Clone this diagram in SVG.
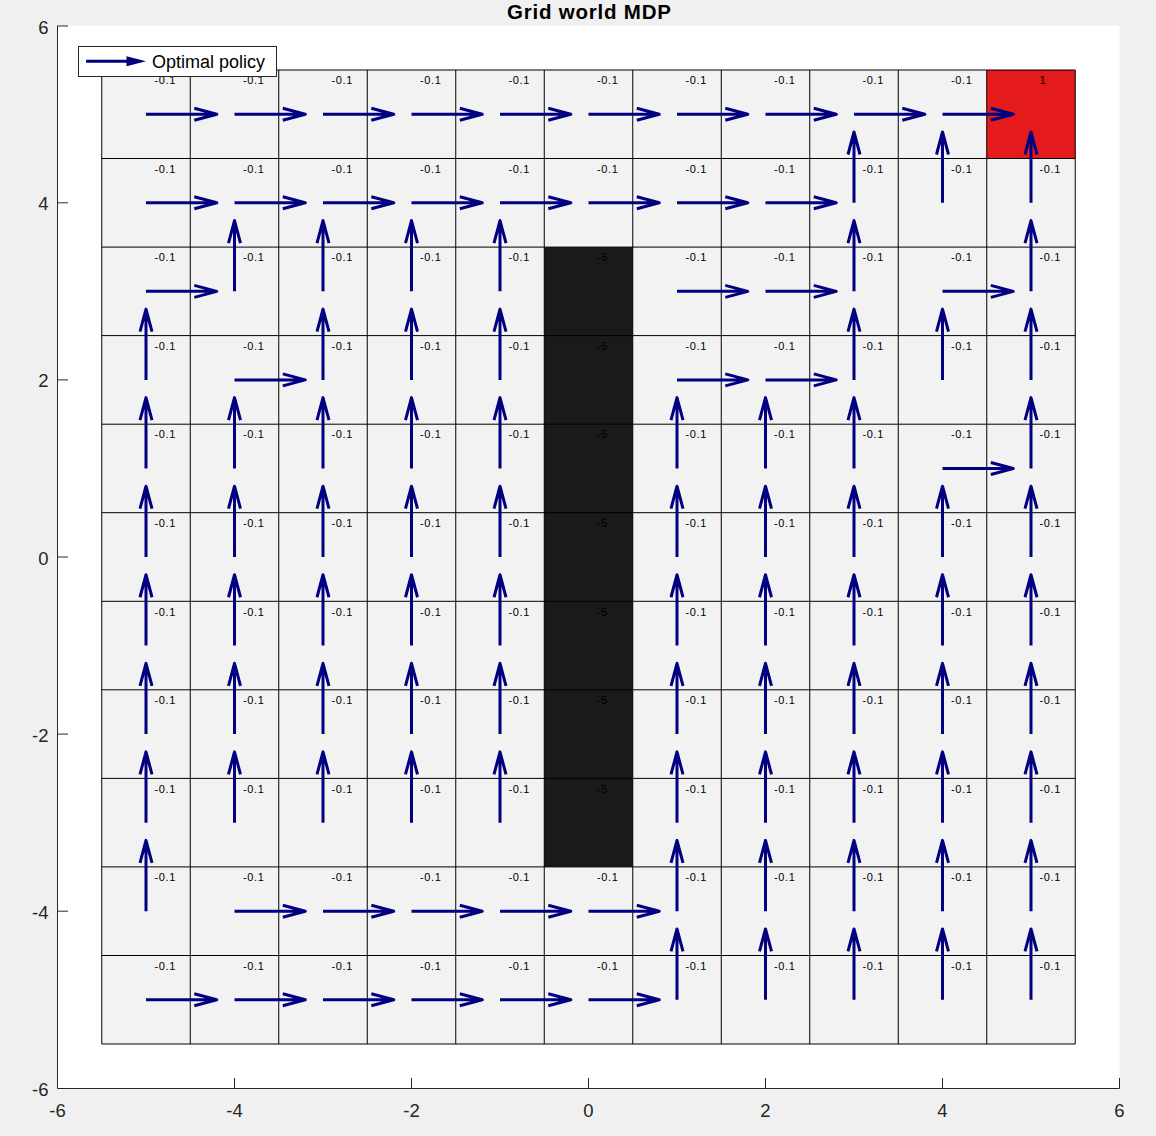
<svg xmlns="http://www.w3.org/2000/svg" width="1156" height="1136" viewBox="0 0 1156 1136">
<style>
.tick{font-family:"Liberation Sans",Arial,sans-serif;font-size:18.5px;fill:#262626}
.lbl{font-family:"Liberation Sans",Arial,sans-serif;font-size:11px;letter-spacing:0.6px;fill:#000}
.grid{stroke:#000;stroke-width:1;fill:none}
.arr{stroke:#000080;stroke-width:3;fill:none;stroke-linejoin:round}
.ax{stroke:#262626;stroke-width:1;fill:none}
</style>
<defs>
<g id="r"><path class="arr" d="M0,0 H70.8 M48.3,-6 L70.8,0 L48.3,6"/></g>
<g id="u"><path class="arr" d="M0,0 V-70.8 M-6,-48.3 L0,-70.8 L6,-48.3"/></g>
</defs>
<rect width="1156" height="1136" fill="#f0f0f0"/>
<g id="axes">
<rect x="57.5" y="25.7" width="1062" height="1062.6" fill="#fff"/>
</g>
<g id="cells">
<rect x="101.75" y="70" width="973.5" height="974" fill="#f2f2f2"/>
<rect x="544.25" y="247.1" width="88.5" height="619.8" fill="#1a1a1a"/>
<rect x="986.75" y="70" width="88.5" height="88.5" fill="#e41a1c"/>
<path class="grid" d="M101.75,70V1044M190.25,70V1044M278.75,70V1044M367.25,70V1044M455.75,70V1044M544.25,70V1044M632.75,70V1044M721.25,70V1044M809.75,70V1044M898.25,70V1044M986.75,70V1044M1075.25,70V1044M101.75,70H1075.25M101.75,158.5H1075.25M101.75,247.1H1075.25M101.75,335.6H1075.25M101.75,424.2H1075.25M101.75,512.7H1075.25M101.75,601.3H1075.25M101.75,689.8H1075.25M101.75,778.4H1075.25M101.75,866.9H1075.25M101.75,955.5H1075.25M101.75,1044H1075.25"/>
</g>
<g id="labels" class="lbl">
<text y="84.25"><tspan x="154.5">-0.1</tspan><tspan x="243">-0.1</tspan><tspan x="331.5">-0.1</tspan><tspan x="420">-0.1</tspan><tspan x="508.5">-0.1</tspan><tspan x="597">-0.1</tspan><tspan x="685.5">-0.1</tspan><tspan x="774">-0.1</tspan><tspan x="862.5">-0.1</tspan><tspan x="951">-0.1</tspan><tspan x="1039.5">1</tspan></text>
<text y="172.8"><tspan x="154.5">-0.1</tspan><tspan x="243">-0.1</tspan><tspan x="331.5">-0.1</tspan><tspan x="420">-0.1</tspan><tspan x="508.5">-0.1</tspan><tspan x="597">-0.1</tspan><tspan x="685.5">-0.1</tspan><tspan x="774">-0.1</tspan><tspan x="862.5">-0.1</tspan><tspan x="951">-0.1</tspan><tspan x="1039.5">-0.1</tspan></text>
<text y="261.35"><tspan x="154.5">-0.1</tspan><tspan x="243">-0.1</tspan><tspan x="331.5">-0.1</tspan><tspan x="420">-0.1</tspan><tspan x="508.5">-0.1</tspan><tspan x="597">-5</tspan><tspan x="685.5">-0.1</tspan><tspan x="774">-0.1</tspan><tspan x="862.5">-0.1</tspan><tspan x="951">-0.1</tspan><tspan x="1039.5">-0.1</tspan></text>
<text y="349.9"><tspan x="154.5">-0.1</tspan><tspan x="243">-0.1</tspan><tspan x="331.5">-0.1</tspan><tspan x="420">-0.1</tspan><tspan x="508.5">-0.1</tspan><tspan x="597">-5</tspan><tspan x="685.5">-0.1</tspan><tspan x="774">-0.1</tspan><tspan x="862.5">-0.1</tspan><tspan x="951">-0.1</tspan><tspan x="1039.5">-0.1</tspan></text>
<text y="438.45"><tspan x="154.5">-0.1</tspan><tspan x="243">-0.1</tspan><tspan x="331.5">-0.1</tspan><tspan x="420">-0.1</tspan><tspan x="508.5">-0.1</tspan><tspan x="597">-5</tspan><tspan x="685.5">-0.1</tspan><tspan x="774">-0.1</tspan><tspan x="862.5">-0.1</tspan><tspan x="951">-0.1</tspan><tspan x="1039.5">-0.1</tspan></text>
<text y="527"><tspan x="154.5">-0.1</tspan><tspan x="243">-0.1</tspan><tspan x="331.5">-0.1</tspan><tspan x="420">-0.1</tspan><tspan x="508.5">-0.1</tspan><tspan x="597">-5</tspan><tspan x="685.5">-0.1</tspan><tspan x="774">-0.1</tspan><tspan x="862.5">-0.1</tspan><tspan x="951">-0.1</tspan><tspan x="1039.5">-0.1</tspan></text>
<text y="615.55"><tspan x="154.5">-0.1</tspan><tspan x="243">-0.1</tspan><tspan x="331.5">-0.1</tspan><tspan x="420">-0.1</tspan><tspan x="508.5">-0.1</tspan><tspan x="597">-5</tspan><tspan x="685.5">-0.1</tspan><tspan x="774">-0.1</tspan><tspan x="862.5">-0.1</tspan><tspan x="951">-0.1</tspan><tspan x="1039.5">-0.1</tspan></text>
<text y="704.1"><tspan x="154.5">-0.1</tspan><tspan x="243">-0.1</tspan><tspan x="331.5">-0.1</tspan><tspan x="420">-0.1</tspan><tspan x="508.5">-0.1</tspan><tspan x="597">-5</tspan><tspan x="685.5">-0.1</tspan><tspan x="774">-0.1</tspan><tspan x="862.5">-0.1</tspan><tspan x="951">-0.1</tspan><tspan x="1039.5">-0.1</tspan></text>
<text y="792.65"><tspan x="154.5">-0.1</tspan><tspan x="243">-0.1</tspan><tspan x="331.5">-0.1</tspan><tspan x="420">-0.1</tspan><tspan x="508.5">-0.1</tspan><tspan x="597">-5</tspan><tspan x="685.5">-0.1</tspan><tspan x="774">-0.1</tspan><tspan x="862.5">-0.1</tspan><tspan x="951">-0.1</tspan><tspan x="1039.5">-0.1</tspan></text>
<text y="881.2"><tspan x="154.5">-0.1</tspan><tspan x="243">-0.1</tspan><tspan x="331.5">-0.1</tspan><tspan x="420">-0.1</tspan><tspan x="508.5">-0.1</tspan><tspan x="597">-0.1</tspan><tspan x="685.5">-0.1</tspan><tspan x="774">-0.1</tspan><tspan x="862.5">-0.1</tspan><tspan x="951">-0.1</tspan><tspan x="1039.5">-0.1</tspan></text>
<text y="969.75"><tspan x="154.5">-0.1</tspan><tspan x="243">-0.1</tspan><tspan x="331.5">-0.1</tspan><tspan x="420">-0.1</tspan><tspan x="508.5">-0.1</tspan><tspan x="597">-0.1</tspan><tspan x="685.5">-0.1</tspan><tspan x="774">-0.1</tspan><tspan x="862.5">-0.1</tspan><tspan x="951">-0.1</tspan><tspan x="1039.5">-0.1</tspan></text>
</g>
<g id="connectors">
<use href="#r" x="146" y="114.25"/><use href="#r" x="234.5" y="114.25"/><use href="#r" x="323" y="114.25"/><use href="#r" x="411.5" y="114.25"/><use href="#r" x="500" y="114.25"/><use href="#r" x="588.5" y="114.25"/><use href="#r" x="677" y="114.25"/><use href="#r" x="765.5" y="114.25"/><use href="#r" x="854" y="114.25"/><use href="#r" x="942.5" y="114.25"/>
<use href="#r" x="146" y="202.8"/><use href="#r" x="234.5" y="202.8"/><use href="#r" x="323" y="202.8"/><use href="#r" x="411.5" y="202.8"/><use href="#r" x="500" y="202.8"/><use href="#r" x="588.5" y="202.8"/><use href="#r" x="677" y="202.8"/><use href="#r" x="765.5" y="202.8"/><use href="#u" x="854" y="202.8"/><use href="#u" x="942.5" y="202.8"/><use href="#u" x="1031" y="202.8"/>
<use href="#r" x="146" y="291.35"/><use href="#u" x="234.5" y="291.35"/><use href="#u" x="323" y="291.35"/><use href="#u" x="411.5" y="291.35"/><use href="#u" x="500" y="291.35"/><use href="#r" x="677" y="291.35"/><use href="#r" x="765.5" y="291.35"/><use href="#u" x="854" y="291.35"/><use href="#r" x="942.5" y="291.35"/><use href="#u" x="1031" y="291.35"/>
<use href="#u" x="146" y="379.9"/><use href="#r" x="234.5" y="379.9"/><use href="#u" x="323" y="379.9"/><use href="#u" x="411.5" y="379.9"/><use href="#u" x="500" y="379.9"/><use href="#r" x="677" y="379.9"/><use href="#r" x="765.5" y="379.9"/><use href="#u" x="854" y="379.9"/><use href="#u" x="942.5" y="379.9"/><use href="#u" x="1031" y="379.9"/>
<use href="#u" x="146" y="468.45"/><use href="#u" x="234.5" y="468.45"/><use href="#u" x="323" y="468.45"/><use href="#u" x="411.5" y="468.45"/><use href="#u" x="500" y="468.45"/><use href="#u" x="677" y="468.45"/><use href="#u" x="765.5" y="468.45"/><use href="#u" x="854" y="468.45"/><use href="#r" x="942.5" y="468.45"/><use href="#u" x="1031" y="468.45"/>
<use href="#u" x="146" y="557"/><use href="#u" x="234.5" y="557"/><use href="#u" x="323" y="557"/><use href="#u" x="411.5" y="557"/><use href="#u" x="500" y="557"/><use href="#u" x="677" y="557"/><use href="#u" x="765.5" y="557"/><use href="#u" x="854" y="557"/><use href="#u" x="942.5" y="557"/><use href="#u" x="1031" y="557"/>
<use href="#u" x="146" y="645.55"/><use href="#u" x="234.5" y="645.55"/><use href="#u" x="323" y="645.55"/><use href="#u" x="411.5" y="645.55"/><use href="#u" x="500" y="645.55"/><use href="#u" x="677" y="645.55"/><use href="#u" x="765.5" y="645.55"/><use href="#u" x="854" y="645.55"/><use href="#u" x="942.5" y="645.55"/><use href="#u" x="1031" y="645.55"/>
<use href="#u" x="146" y="734.1"/><use href="#u" x="234.5" y="734.1"/><use href="#u" x="323" y="734.1"/><use href="#u" x="411.5" y="734.1"/><use href="#u" x="500" y="734.1"/><use href="#u" x="677" y="734.1"/><use href="#u" x="765.5" y="734.1"/><use href="#u" x="854" y="734.1"/><use href="#u" x="942.5" y="734.1"/><use href="#u" x="1031" y="734.1"/>
<use href="#u" x="146" y="822.65"/><use href="#u" x="234.5" y="822.65"/><use href="#u" x="323" y="822.65"/><use href="#u" x="411.5" y="822.65"/><use href="#u" x="500" y="822.65"/><use href="#u" x="677" y="822.65"/><use href="#u" x="765.5" y="822.65"/><use href="#u" x="854" y="822.65"/><use href="#u" x="942.5" y="822.65"/><use href="#u" x="1031" y="822.65"/>
<use href="#u" x="146" y="911.2"/><use href="#r" x="234.5" y="911.2"/><use href="#r" x="323" y="911.2"/><use href="#r" x="411.5" y="911.2"/><use href="#r" x="500" y="911.2"/><use href="#r" x="588.5" y="911.2"/><use href="#u" x="677" y="911.2"/><use href="#u" x="765.5" y="911.2"/><use href="#u" x="854" y="911.2"/><use href="#u" x="942.5" y="911.2"/><use href="#u" x="1031" y="911.2"/>
<use href="#r" x="146" y="999.75"/><use href="#r" x="234.5" y="999.75"/><use href="#r" x="323" y="999.75"/><use href="#r" x="411.5" y="999.75"/><use href="#r" x="500" y="999.75"/><use href="#r" x="588.5" y="999.75"/><use href="#u" x="677" y="999.75"/><use href="#u" x="765.5" y="999.75"/><use href="#u" x="854" y="999.75"/><use href="#u" x="942.5" y="999.75"/><use href="#u" x="1031" y="999.75"/>
</g>
<g id="axis-lines">
<path class="ax" d="M57.5,25.7V1088.5H1119.5"/>
<path class="ax" d="M234.5,1088.5V1078M411.5,1088.5V1078M588.5,1088.5V1078M765.5,1088.5V1078M942.5,1088.5V1078M1119.5,1088.5V1078M57.5,26H68M57.5,202.8H68M57.5,379.9H68M57.5,557H68M57.5,734.1H68M57.5,911.2H68"/>
<g class="tick" text-anchor="middle">
<text x="57.5" y="1116.5">-6</text><text x="234.5" y="1116.5">-4</text><text x="411.5" y="1116.5">-2</text><text x="588.5" y="1116.5">0</text><text x="765.5" y="1116.5">2</text><text x="942.5" y="1116.5">4</text><text x="1119.5" y="1116.5">6</text>
</g>
<g class="tick" text-anchor="end">
<text x="48.5" y="33.5">6</text><text x="48.5" y="210.3">4</text><text x="48.5" y="387.4">2</text><text x="48.5" y="564.5">0</text><text x="48.5" y="741.6">-2</text><text x="48.5" y="918.7">-4</text><text x="48.5" y="1095.8">-6</text>
</g>
</g>
<g id="title">
<text x="589" y="18.5" text-anchor="middle" font-family="'Liberation Sans',Arial,sans-serif" font-size="20.5" font-weight="bold" fill="#000" textLength="164" lengthAdjust="spacing">Grid world MDP</text>
</g>
<g id="legend">
<rect x="78.5" y="46.5" width="198" height="30" fill="#fff" stroke="#262626" stroke-width="1"/>
<path d="M86,61.3H131" stroke="#000080" stroke-width="3" fill="none"/>
<polygon points="126.5,56.3 146,61.3 126.5,66.3" fill="#000080"/>
<text x="152" y="67.6" font-family="'Liberation Sans',Arial,sans-serif" font-size="18" fill="#000">Optimal policy</text>
</g>
</svg>
